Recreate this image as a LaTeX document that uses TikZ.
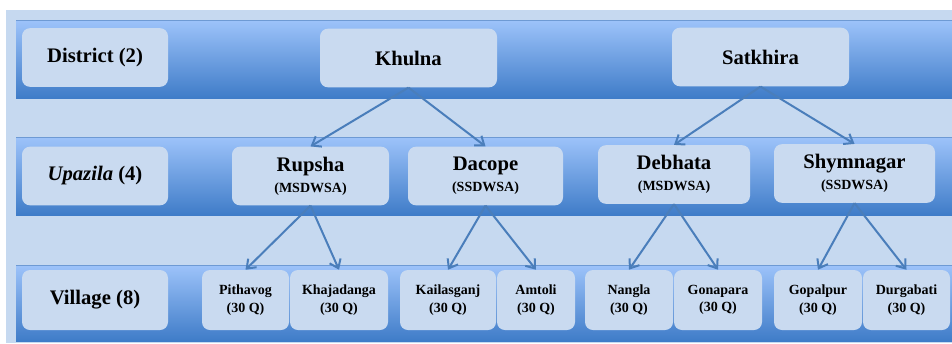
\documentclass[tikz,border=0pt]{standalone}
\usepackage{fontspec}
\setmainfont{Liberation Serif}
\usepackage{xcolor}
\usetikzlibrary{arrows.meta, positioning}
\definecolor{pagebg}{HTML}{C6D9F0}
\definecolor{bandtop}{HTML}{9DC3FA}
\definecolor{bandbot}{HTML}{3F7CC8}
\definecolor{bandedge}{HTML}{6E9AD4}
\definecolor{boxfill}{HTML}{C9DAF0}
\definecolor{linkblue}{HTML}{4A7EBB}

\begin{document}
\begin{tikzpicture}[x=0.75pt, y=-0.75pt,
  lvlbox/.style={fill=boxfill, rounded corners=6pt, align=center, inner sep=1pt,
    font=\fontsize{15.5}{17}\selectfont\bfseries, minimum width=#1*0.75pt, minimum height=44pt},
  subbox/.style={fill=boxfill, rounded corners=6pt, align=center, inner sep=1pt,
    font=\fontsize{10.5}{13}\selectfont\bfseries, minimum width=#1*0.75pt, minimum height=45pt},
  link/.style={draw=linkblue, line width=1.5pt, -{Straight Barb[length=6pt, width=9pt]}}]
\useasboundingbox (0,0) rectangle (952,343);
\fill[white] (0,0) rectangle (952,343);
\fill[pagebg] (6,10) rectangle (952,343);
% level bands
\shade[top color=bandtop, bottom color=bandbot] (16,20) rectangle (952,98);
\shade[top color=bandtop, bottom color=bandbot] (16,137) rectangle (952,215);
\shade[top color=bandtop, bottom color=bandbot] (16,265) rectangle (952,341);
\draw[bandedge, line width=0.6pt] (16,20) -- (952,20) (16,137) -- (952,137) (16,265) -- (952,265);
% level labels
\node[lvlbox=146] (district) at (95,57.5) {District (2)};
\node[lvlbox=146] (upazila) at (95,176) {\textit{Upazila} (4)};
\node[lvlbox=146, minimum height=45pt] (village) at (95,300) {Village (8)};
% districts
\node[lvlbox=177] (khulna) at (408.5,58) {Khulna};
\node[lvlbox=177] (satkhira) at (760.5,57) {Satkhira};
% upazilas
\node[lvlbox=157] (rupsha) at (310.5,176)
  {Rupsha\\[-1pt]{\fontsize{10.5}{12}\selectfont (MSDWSA)}};
\node[lvlbox=155] (dacope) at (485.5,176)
  {Dacope\\[-1pt]{\fontsize{10.5}{12}\selectfont (SSDWSA)}};
\node[lvlbox=152] (debhata) at (674,174.5)
  {Debhata\\[-1pt]{\fontsize{10.5}{12}\selectfont (MSDWSA)}};
\node[lvlbox=161] (shymnagar) at (854.5,173.5)
  {Shymnagar\\[-1pt]{\fontsize{10.5}{12}\selectfont (SSDWSA)}};
% villages
\node[subbox=87] (pithavog) at (245.5,300) {Pithavog\\(30 Q)};
\node[subbox=98] (khajadanga) at (339,300) {Khajadanga\\(30 Q)};
\node[subbox=96] (kailasganj) at (448,300) {Kailasganj\\(30 Q)};
\node[subbox=78] (amtoli) at (536,300) {Amtoli\\(30 Q)};
\node[subbox=88] (nangla) at (629,300) {Nangla\\(30 Q)};
\node[subbox=88] (gonapara) at (718,300) {Gonapara\\(30 Q)};
\node[subbox=88] (gopalpur) at (818,300) {Gopalpur\\(30 Q)};
\node[subbox=87] (durgabati) at (906.5,300) {Durgabati\\(30 Q)};
% links
\draw[link] (khulna.south) -- (rupsha.north);
\draw[link] (khulna.south) -- (dacope.north);
\draw[link] (satkhira.south) -- (debhata.north);
\draw[link] (satkhira.south) -- (shymnagar.north);
\draw[link] (rupsha.south) -- (pithavog.north);
\draw[link] (rupsha.south) -- (khajadanga.north);
\draw[link] (dacope.south) -- (kailasganj.north);
\draw[link] (dacope.south) -- (amtoli.north);
\draw[link] (debhata.south) -- (nangla.north);
\draw[link] (debhata.south) -- (gonapara.north);
\draw[link] (shymnagar.south) -- (gopalpur.north);
\draw[link] (shymnagar.south) -- (durgabati.north);
\end{tikzpicture}
\end{document}
